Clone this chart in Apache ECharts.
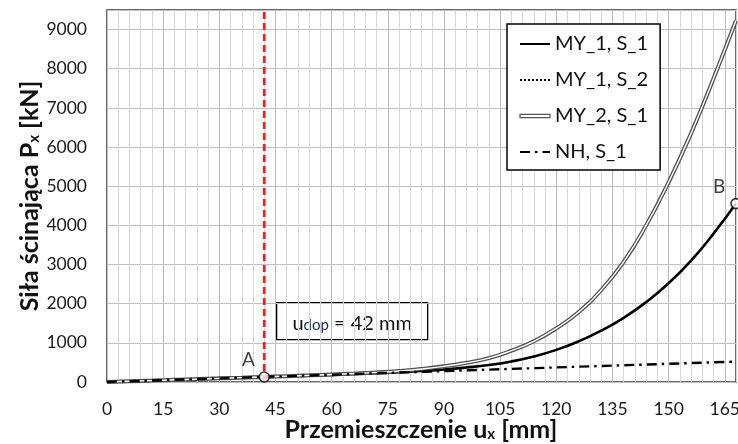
<!DOCTYPE html>
<html>
<head>
<meta charset="utf-8">
<script src="https://cdn.jsdelivr.net/npm/echarts@6/dist/echarts.min.js"></script>
<style>
  html, body { margin: 0; padding: 0; background: #fff; }
  #chart { width: 738px; height: 444px; }
</style>
</head>
<body>
<div id="chart"></div>
<script>
// Displacement samples [mm]
const displacement = [0, 6, 12, 18, 24, 30, 36, 42, 48, 54, 60, 66, 72, 78, 84,
  90, 96, 102, 108, 114, 120, 126, 132, 138, 144, 150, 156, 162, 168];

// Shear force [kN] for each model / setting
const my1s1 = [0, 18, 36, 55, 73, 92, 110, 128, 146, 164, 183, 203, 225, 250, 280,
  318, 370, 435, 525, 650, 820, 1040, 1310, 1640, 2040, 2520, 3100, 3790, 4556];
const my1s2 = [0, 18, 36, 55, 73, 92, 110, 128, 146, 164, 183, 203, 225, 250, 280,
  318, 370, 435, 525, 650, 820, 1040, 1310, 1640, 2040, 2520, 3100, 3790, 4556];
const my2s1 = [0, 19, 37, 56, 74, 93, 111, 130, 150, 170, 192, 216, 245, 282, 332,
  400, 490, 610, 800, 1040, 1370, 1790, 2350, 3070, 4000, 5100, 6350, 7750, 9230];
const nhs1 = [0, 19, 37, 56, 74, 93, 112, 130, 149, 167, 186, 205, 223, 242, 260,
  279, 298, 316, 335, 353, 372, 391, 409, 428, 446, 465, 484, 502, 521];

// Allowed displacement and the marked points
const uDop = 42;
const pointA = [42, 128];
const pointB = [168, 4556];

// Axis ranges and tick steps
const xMin = 0, xMax = 168, xLabelStep = 15, xGridStep = 3;
const yMin = 0, yMax = 9500, yStep = 1000;

// Axis titles (rich text with subscripts)
const xTitle = '{b|Przemieszczenie u}{s|x}{b| [mm]}';
const yTitle = '{b|Siła ścinająca P}{s|x}{b| [kN]}';

const pairs = (ys) => displacement.map((x, i) => [x, ys[i]]);

const FONT = 'Lato';
const chart = echarts.init(document.getElementById('chart'), null, { renderer: 'canvas' });

const titleRich = {
  b: { fontFamily: FONT, fontWeight: 'bold', fontSize: 25, fill: '#111', lineHeight: 28, verticalAlign: 'bottom' },
  s: { fontFamily: FONT, fontWeight: 'bold', fontSize: 15, fill: '#111', lineHeight: 10, verticalAlign: 'bottom' }
};

chart.setOption({
  animation: false,
  backgroundColor: '#ffffff',
  textStyle: { fontFamily: FONT },
  grid: {
    left: 107, right: 2, top: 10, bottom: 62,
    containLabel: false, outerBoundsMode: 'none',
    show: true, borderColor: '#3a3a3a', borderWidth: 1.5
  },
  legend: {
    orient: 'vertical',
    left: 507, top: 24,
    padding: [10, 12, 8, 12],
    itemWidth: 30, itemHeight: 4, itemGap: 16,
    borderColor: '#000', borderWidth: 1.5,
    backgroundColor: '#fff',
    itemStyle: { opacity: 0 },
    textStyle: { fontFamily: FONT, fontSize: 20, color: '#111', lineHeight: 20 },
    data: [
      'MY_1, S_1',
      'MY_1, S_2',
      { name: 'MY_2, S_1', icon: 'path://M0,0H30V3.4H0Z',
        itemStyle: { opacity: 1, color: '#ffffff', borderColor: '#555555', borderWidth: 1.2 } },
      'NH, S_1'
    ]
  },
  xAxis: {
    type: 'value', min: xMin, max: xMax, interval: xGridStep,
    axisLine: { show: false },
    axisTick: { show: false },
    axisLabel: {
      fontFamily: FONT, fontSize: 17.5, color: '#1a1a1a', margin: 18,
      formatter: (v) => (v % xLabelStep === 0 ? String(v) : '')
    },
    splitLine: {
      show: true,
      lineStyle: { width: 1, color: ['#bdbdbd', '#d6d6d6', '#d6d6d6', '#d6d6d6', '#d6d6d6'] }
    }
  },
  yAxis: {
    type: 'value', min: yMin, max: yMax, interval: yStep,
    axisLine: { show: false },
    axisTick: { show: false },
    axisLabel: {
      fontFamily: FONT, fontSize: 17.5, color: '#1a1a1a', margin: 20,
      showMaxLabel: false,
      formatter: (v) => String(v)
    },
    splitLine: { show: true, lineStyle: { width: 1.2, color: '#bfbfbf' } }
  },
  series: [
    {
      name: 'MY_1, S_1', type: 'line', data: pairs(my1s1), smooth: true,
      symbol: 'none', z: 3, itemStyle: { color: '#000' },
      lineStyle: { color: '#000', width: 2.6 }
    },
    {
      name: 'MY_1, S_2', type: 'line', data: pairs(my1s2), smooth: true,
      symbol: 'none', z: 4, itemStyle: { color: '#000' },
      lineStyle: { color: '#000', width: 1.5, type: [2, 2] }
    },
    {
      name: 'MY_2, S_1', type: 'line', data: pairs(my2s1), smooth: true,
      symbol: 'none', z: 5, itemStyle: { color: '#505050' },
      lineStyle: { color: '#505050', width: 4 }
    },
    {
      name: 'MY_2, S_1', type: 'line', data: pairs(my2s1), smooth: true,
      symbol: 'none', z: 6, silent: true, itemStyle: { color: '#ffffff' },
      lineStyle: { color: '#ffffff', width: 1.4 }
    },
    {
      name: 'NH, S_1', type: 'line', data: pairs(nhs1), smooth: true,
      symbol: 'none', z: 7, itemStyle: { color: '#000' },
      lineStyle: { color: '#000', width: 2.4, type: [10, 5, 2.5, 5] }
    },
    {
      name: 'u_dop', type: 'line', data: [[uDop, yMin], [uDop, yMax]],
      symbol: 'none', z: 8, silent: true,
      lineStyle: { color: '#ff1a1a', width: 2.8, type: [7, 4] }
    },
    {
      name: 'points', type: 'scatter', z: 10, silent: true,
      data: [
        { value: pointA, label: { formatter: 'A', position: [-10, -11] } },
        { value: pointB, label: { formatter: 'B', position: [-11, -11] } }
      ],
      symbol: 'circle', symbolSize: 10,
      itemStyle: { color: '#fff', borderColor: '#000', borderWidth: 1.6 },
      label: {
        show: true, align: 'center', verticalAlign: 'middle',
        fontFamily: FONT, fontSize: 19, color: '#111'
      }
    }
  ],
  graphic: [
    {
      type: 'text', x: 421, y: 428, z: 20,
      style: { text: xTitle, align: 'center', verticalAlign: 'middle', rich: titleRich }
    },
    {
      type: 'text', x: 28, y: 196, rotation: Math.PI / 2, z: 20,
      style: { text: yTitle, align: 'center', verticalAlign: 'middle', rich: titleRich }
    },
    {
      type: 'group', left: 276, top: 302, z: 20,
      children: [
        { type: 'rect', shape: { x: 0, y: 0, width: 151, height: 37 },
          style: { fill: '#fff', stroke: '#000', lineWidth: 1.3 } },
        { type: 'text', x: 75.5, y: 18.5,
          style: {
            text: '{u|u}{d|dop}{u| = 42 mm}',
            align: 'center', verticalAlign: 'middle',
            rich: {
              u: { fontFamily: FONT, fontSize: 20, fill: '#111', lineHeight: 24, verticalAlign: 'bottom' },
              d: { fontFamily: FONT, fontSize: 15, fill: '#1f2f55', lineHeight: 6, verticalAlign: 'bottom' }
            }
          } }
      ]
    }
  ]
});
</script>
</body>
</html>
